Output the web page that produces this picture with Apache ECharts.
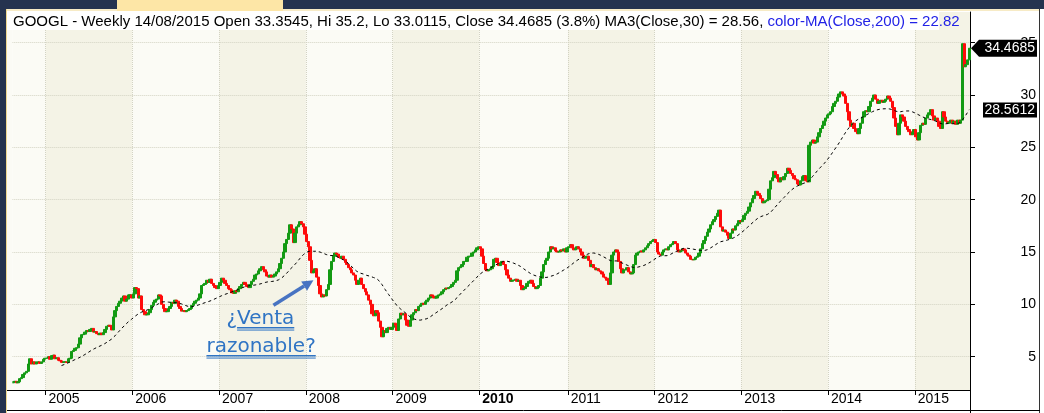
<!DOCTYPE html>
<html><head><meta charset="utf-8">
<script src="https://cdn.jsdelivr.net/npm/echarts@6/dist/echarts.min.js"></script>
<style>html,body{margin:0;padding:0;background:#fff;overflow:hidden}#c{width:1044px;height:413px}</style>
</head><body><div id="c"></div>
<script>
// ---------------- DATA ----------------
const startDate = Date.UTC(2004, 7, 20); // first weekly bar (Fri 20/08/2004)
const firstOpen = 2.5;
const closes = [
2.6,2.65,2.5,2.6,2.9,3.0,3.3,3.45,3.6,4.3,
4.8,4.3,4.5,4.3,4.5,4.5,4.35,4.5,4.75,4.85,
4.85,5.0,4.75,5.1,5.15,4.8,4.9,4.65,4.6,4.45,
4.5,4.5,4.45,4.8,4.85,5.5,5.6,5.8,5.85,6.2,
6.8,7.1,7.15,7.35,7.5,7.4,7.6,7.7,7.35,7.4,
7.2,7.1,7.25,7.1,7.3,7.6,7.9,8.0,7.9,7.55,
8.8,9.4,9.8,10.1,10.3,10.6,10.8,10.3,10.5,10.9,
10.9,10.6,11.0,11.6,11.5,10.6,10.8,9.5,9.3,9.0,
9.0,9.2,9.5,9.9,10.2,10.4,10.5,10.9,10.8,10.0,
9.6,9.3,9.3,9.6,9.8,10.2,10.1,10.4,10.3,9.8,
9.6,9.35,9.4,9.3,9.4,9.5,9.6,9.9,10.1,10.3,
10.4,10.6,11.0,11.8,11.9,12.0,12.3,12.1,12.4,12.0,
11.8,11.6,11.5,11.8,12.1,12.5,12.3,12.0,11.8,11.5,
11.4,11.1,11.05,11.3,11.2,11.5,11.7,11.9,12.1,11.9,
11.7,11.6,11.9,12.2,12.4,12.8,12.9,13.2,13.4,13.6,
13.3,13.1,12.7,12.6,12.8,12.6,12.7,12.9,13.1,13.4,
13.9,14.4,15.0,15.8,16.2,16.8,17.6,17.2,15.9,16.8,
17.4,17.6,17.9,17.7,17.4,16.7,16.0,15.5,14.2,13.0,
13.2,13.4,12.6,11.8,11.0,10.7,10.9,10.8,11.4,11.9,
13.3,14.1,14.6,14.9,14.8,14.5,14.4,14.6,14.3,14.0,
13.8,13.5,13.3,13.0,12.8,12.3,11.9,12.3,12.5,11.9,
11.5,11.2,10.9,10.4,10.0,9.1,8.9,9.4,9.2,8.4,
7.8,6.9,7.5,7.3,7.7,7.8,7.6,7.8,8.2,8.0,
7.5,8.6,9.15,9.0,9.1,8.5,8.0,7.9,8.5,9.0,
9.2,9.5,9.4,9.8,9.95,10.1,10.0,10.25,10.4,10.6,
10.9,10.8,10.6,10.6,10.8,10.9,11.0,11.2,11.4,11.55,
11.5,11.6,11.7,11.9,12.1,12.3,13.2,13.5,13.6,13.8,
14.1,14.1,14.5,14.6,14.6,14.9,15.0,15.2,15.4,15.5,
15.3,14.6,13.9,13.3,13.2,13.3,13.4,13.6,14.3,14.4,
14.0,13.7,13.9,14.1,13.8,13.3,12.8,12.5,12.2,12.3,
12.3,12.4,12.2,12.3,11.8,11.4,11.5,11.7,12.0,12.2,
12.3,12.0,11.7,11.5,11.6,11.8,12.5,13.1,13.8,14.2,
14.4,15.0,15.5,15.3,15.4,15.1,15.0,15.0,15.2,15.1,
15.3,15.0,15.4,15.5,15.7,15.4,15.2,15.3,15.5,15.3,
15.0,14.7,14.4,14.5,14.6,14.2,13.6,13.8,13.5,13.3,
13.4,13.2,13.1,12.9,12.6,12.5,12.3,11.9,13.0,14.7,
15.0,15.2,15.0,14.1,13.4,13.0,13.3,13.3,13.5,13.1,
12.9,13.0,13.8,14.7,14.9,15.0,15.1,15.0,15.2,15.4,
15.6,15.8,16.0,16.1,16.2,15.9,15.0,14.8,14.7,15.0,
15.2,15.3,15.2,15.5,15.7,15.8,16.0,15.8,15.2,15.0,
15.1,15.3,15.2,14.9,14.7,14.6,14.3,14.25,14.3,14.5,
14.6,14.9,15.3,15.8,16.1,16.5,16.9,17.2,17.6,17.9,
18.1,18.4,18.7,19.0,17.4,17.0,17.1,16.9,16.6,16.3,
16.8,17.2,17.1,17.5,17.7,18.0,17.9,18.1,18.5,18.7,
18.9,19.3,19.7,20.1,20.4,20.8,20.6,20.4,20.1,19.7,
19.8,19.9,20.0,21.0,21.8,22.1,22.7,22.4,22.0,21.7,
22.1,21.9,22.2,22.5,23.0,22.8,22.5,22.3,22.0,21.9,
21.5,21.4,21.8,22.2,22.3,21.8,21.7,25.2,25.5,25.7,
25.4,25.5,26.0,26.4,26.8,27.1,27.5,27.8,28.1,28.2,
28.4,28.9,29.2,29.4,29.8,30.1,30.3,30.1,29.9,29.2,
28.4,27.6,27.0,27.3,26.8,26.5,26.3,26.8,27.3,27.9,
28.4,28.5,28.4,28.9,29.4,29.7,30.0,29.6,29.2,29.4,
29.5,29.3,29.4,29.6,29.9,29.7,29.4,28.8,27.8,27.0,
26.2,27.3,28.1,27.9,27.5,27.0,26.7,26.5,26.2,26.4,
26.7,26.0,25.7,26.4,27.1,27.3,27.2,27.8,28.1,28.3,
28.6,28.0,27.6,27.8,27.5,27.0,26.8,28.4,27.9,27.5,
27.3,27.4,27.6,27.3,27.5,27.2,27.6,27.3,27.6,34.9,
32.7,32.9,33.3545,34.4685
];
const lastOpen = 33.3545, lastHigh = 35.2, lastLow = 33.0115, lastClose = 34.4685;
const lastMA = 28.5612;
const maPeriod = 30;
const yTicks = [5, 10, 15, 20, 25, 30, 35];
const boldYear = '2010';
const titleBlack = 'GOOGL - Weekly 14/08/2015 Open 33.3545, Hi 35.2, Lo 33.0115, Close 34.4685 (3.8%) MA3(Close,30) = 28.56, ';
const titleBlue = 'color-MA(Close,200) = 22.82';
const noteMark = '¿', noteWord = 'Venta', noteLine2 = 'razonable?';
const noteTargetIndex = 180, noteTargetValue = 12.3;

// ---------------- BUILD ----------------
const n = closes.length;
const categories = [];
for (let i = 0; i < n; i++) categories.push(new Date(startDate + i * 7 * 86400000).toISOString().slice(0, 10));
const years = categories.map(c => c.slice(0, 4));
const isYearStart = i => i > 0 && years[i] !== years[i - 1];

const WICK = 0.026;
const opens = closes.map((c, i) => i === 0 ? firstOpen : closes[i - 1]);
opens[n - 1] = lastOpen;
const bodies = closes.map((c, i) => [opens[i], c, Math.min(opens[i], c), Math.max(opens[i], c)]);
const wicks = closes.map((c, i) => {
  let lo = Math.min(opens[i], c) * (1 - WICK), hi = Math.max(opens[i], c) * (1 + WICK);
  if (i === n - 1) { lo = lastLow; hi = lastHigh; }
  return [lo, hi, lo, hi];
});
const ma = closes.map((c, i) => {
  if (i < maPeriod - 1) return '-';
  let s = 0; for (let k = i - maPeriod + 1; k <= i; k++) s += closes[k];
  return +(s / maPeriod).toFixed(4);
});

const FONT = 'Liberation Sans';
const UP = '#139a13', DOWN = '#ff0b0b';
const GRID = '#d3d3c3';

const chart = echarts.init(document.getElementById('c'), null, {renderer: 'canvas', width: 1044, height: 413});
chart.setOption({
  animation: false,
  backgroundColor: '#ffffff',
  grid: {left: 12.3, right: 74, top: 12, bottom: 23, containLabel: false, outerBoundsMode: 'none'},
  xAxis: {
    type: 'category', data: categories, boundaryGap: true, z: 0,
    axisLine: {show: true, lineStyle: {color: '#000', width: 1}},
    axisTick: {show: true, interval: (i) => isYearStart(i), length: 5, lineStyle: {color: '#000'}},
    axisLabel: {
      show: true, interval: (i) => isYearStart(i), align: 'left', margin: 2, padding: [0, 0, 0, 2],
      fontSize: 14, fontFamily: FONT, color: '#000',
      formatter: (v) => v.slice(0, 4) === boldYear ? '{b|' + v.slice(0, 4) + '}' : v.slice(0, 4),
      rich: {b: {fontWeight: 'bold', fontSize: 14, fontFamily: FONT, color: '#000'}}
    },
    splitLine: {show: true, interval: (i) => isYearStart(i), lineStyle: {color: GRID, type: 'dotted', width: 1}},
    splitArea: {show: true, interval: (i) => i === 0 || isYearStart(i), areaStyle: {color: ['#fbfbf5', '#f4f3e6']}}
  },
  yAxis: {
    type: 'value', position: 'right', min: 1.815, max: 37.93, z: 1,
    axisLine: {show: true, lineStyle: {color: '#000', width: 1}},
    axisTick: {show: true, customValues: yTicks, length: 5, lineStyle: {color: '#000'}},
    axisLabel: {show: true, customValues: yTicks, align: 'right', margin: 66, fontSize: 14, fontFamily: FONT, color: '#000'},
    splitLine: {show: true, lineStyle: {color: GRID, type: 'dotted', width: 1}},
    splitArea: {show: false}
  },
  series: [
    {type: 'candlestick', name: 'wick', data: wicks, barWidth: 1, silent: true, z: 2,
     itemStyle: {color: '#000', color0: '#000', borderColor: '#000', borderColor0: '#000', borderColorDoji: '#000', borderWidth: 0}},
    {type: 'candlestick', name: 'GOOGL', data: bodies, barWidth: 2.8, silent: true, z: 3,
     itemStyle: {color: UP, color0: DOWN, borderColor: UP, borderColor0: DOWN, borderColorDoji: UP, borderWidth: 1}},
    {type: 'line', name: 'MA30', data: ma, showSymbol: false, symbol: 'none', silent: true, z: 4,
     lineStyle: {color: '#000', width: 1, type: [3, 3]}}
  ]
});

// ---------------- OVERLAYS ----------------
const yPix = v => chart.convertToPixel({yAxisIndex: 0}, v);
const tip = chart.convertToPixel({xAxisIndex: 0, yAxisIndex: 0}, [categories[noteTargetIndex], noteTargetValue]);
const yP = yPix(lastClose), yM = yPix(lastMA);

const NOTE_FONT = '20px "DejaVu Sans"';
const ctx = document.createElement('canvas').getContext('2d');
ctx.font = NOTE_FONT;
const wMark = ctx.measureText(noteMark).width;
const wLine1 = ctx.measureText(noteMark + noteWord).width;
const wLine2 = ctx.measureText(noteLine2).width;

const noteX1 = tip[0] - 87, noteY1 = tip[1] + 39;
const noteX2 = tip[0] - 107, noteY2 = tip[1] + 67;
const tail = [tip[0] - 40, tip[1] + 25];
const dx = tip[0] - tail[0], dy = tip[1] - tail[1], L = Math.hypot(dx, dy);
const ux = dx / L, uy = dy / L, px = -uy, py = ux;
const headLen = 11, headW = 5.5;
const base = [tip[0] - ux * headLen, tip[1] - uy * headLen];
const BLUE = '#2f74c4', ARROW = '#4773c2';

const NAVY = '#25334f';
const g = [
  {type: 'rect', z: 50, shape: {x: 7, y: 11, width: 5.3, height: 379}, style: {fill: '#fbfbf5'}},
  {type: 'rect', z: 51, shape: {x: 7, y: 11, width: 932, height: 19}, style: {fill: '#ffffff'}},
  {type: 'text', z: 52, x: 13, y: 21.5, style: {
    text: '{k|' + titleBlack + '}{b|' + titleBlue + '}', verticalAlign: 'middle',
    rich: {k: {fill: '#000', fontSize: 15, fontFamily: FONT}, b: {fill: '#2222e6', fontSize: 15, fontFamily: FONT}}}},
  {type: 'rect', z: 53, shape: {x: 0, y: 0, width: 1044, height: 9}, style: {fill: NAVY}},
  {type: 'rect', z: 54, shape: {x: 117, y: 0, width: 166, height: 11}, style: {fill: '#fde6a6'}},
  {type: 'rect', z: 53, shape: {x: 7, y: 9, width: 1033, height: 2}, style: {fill: '#f7ebc6'}},
  {type: 'rect', z: 55, shape: {x: 0, y: 0, width: 6, height: 413}, style: {fill: NAVY}},
  {type: 'rect', z: 55, shape: {x: 6, y: 9, width: 1, height: 404}, style: {fill: '#f0d890'}},
  {type: 'line', z: 55, shape: {x1: 1039.5, y1: 9, x2: 1039.5, y2: 413}, style: {stroke: '#333', lineWidth: 1}},
  {type: 'line', z: 55, shape: {x1: 7, y1: 410.5, x2: 1040, y2: 410.5}, style: {stroke: '#000', lineWidth: 1}},
  {type: 'line', z: 55, shape: {x1: 7, y1: 390.5, x2: 12.3, y2: 390.5}, style: {stroke: '#000', lineWidth: 1}},
  {type: 'line', z: 55, shape: {x1: 970.5, y1: 390, x2: 970.5, y2: 413}, style: {stroke: '#000', lineWidth: 1}},
  // last price pointer
  {type: 'polygon', z: 60, shape: {points: [[971, yP], [979, yP - 8.5], [1037, yP - 8.5], [1037, yP + 8.5], [979, yP + 8.5]]}, style: {fill: '#000'}},
  {type: 'text', z: 61, x: 1035, y: yP, style: {text: lastClose.toFixed(4), fill: '#fff', font: '14px "' + FONT + '"', align: 'right', verticalAlign: 'middle'}},
  // last MA box
  {type: 'rect', z: 60, shape: {x: 983, y: yM - 7.5, width: 54, height: 15}, style: {fill: '#000'}},
  {type: 'text', z: 61, x: 1035, y: yM, style: {text: lastMA.toFixed(4), fill: '#fff', font: '14px "' + FONT + '"', align: 'right', verticalAlign: 'middle'}},
  // annotation arrow
  {type: 'line', z: 62, shape: {x1: tail[0], y1: tail[1], x2: base[0], y2: base[1]}, style: {stroke: ARROW, lineWidth: 3.5}},
  {type: 'polygon', z: 62, shape: {points: [[tip[0], tip[1]], [base[0] + px * headW, base[1] + py * headW], [base[0] - px * headW, base[1] - py * headW]]}, style: {fill: ARROW}},
  // annotation text
  {type: 'text', z: 62, x: noteX1, y: noteY1, style: {text: noteMark + noteWord, fill: BLUE, font: NOTE_FONT, verticalAlign: 'middle'}},
  {type: 'text', z: 62, x: noteX2, y: noteY2, style: {text: noteLine2, fill: BLUE, font: NOTE_FONT, verticalAlign: 'middle'}},
  {type: 'line', z: 62, shape: {x1: noteX1 + wMark, y1: noteY1 + 8.5, x2: noteX1 + wLine1, y2: noteY1 + 8.5}, style: {stroke: BLUE, lineWidth: 1.5}},
  {type: 'line', z: 62, shape: {x1: noteX1 + wMark, y1: noteY1 + 10.8, x2: noteX1 + wLine1, y2: noteY1 + 10.8}, style: {stroke: BLUE, lineWidth: 1}},
  {type: 'line', z: 62, shape: {x1: noteX2, y1: noteY2 + 8.5, x2: noteX2 + wLine2, y2: noteY2 + 8.5}, style: {stroke: BLUE, lineWidth: 1.5}},
  {type: 'line', z: 62, shape: {x1: noteX2, y1: noteY2 + 10.8, x2: noteX2 + wLine2, y2: noteY2 + 10.8}, style: {stroke: BLUE, lineWidth: 1}}
];
chart.setOption({graphic: {elements: g}});
</script>
</body></html>
